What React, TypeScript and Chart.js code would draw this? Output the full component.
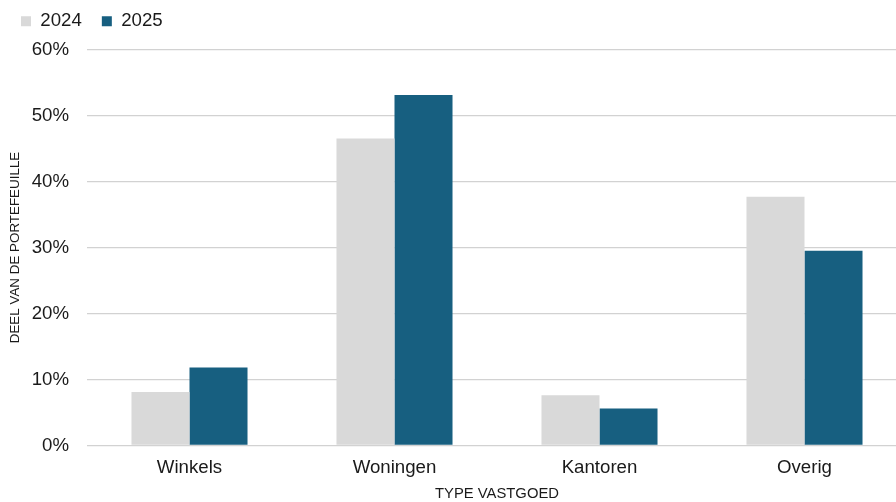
import React, { useEffect, useRef } from "react";
import { Chart, registerables } from "chart.js";

Chart.register(...registerables);

// Portfolio share per property type, 2024 vs 2025 (percent)
const categories = ["Winkels", "Woningen", "Kantoren", "Overig"];
const series2024 = [8.1, 46.5, 7.6, 37.7];
const series2025 = [11.8, 53.1, 5.6, 29.5];
const seriesLabels = ["2024", "2025"];
const yTicks = [0, 10, 20, 30, 40, 50, 60];

const FONT = "'Liberation Sans', Arial, Helvetica, sans-serif";
const GRAY = "#d9d9d9";
const BLUE = "#175f80";
const TEXT = "#1a1a1a";

// Adds extra room between the legend row and the plot area.
const legendGap = {
  id: "legendGap",
  beforeInit(chart: any) {
    const legend = chart.legend;
    if (!legend) return;
    const fit = legend.fit.bind(legend);
    legend.fit = function () {
      fit();
      this.height += 8.8;
    };
  },
};

export default function App() {
  const canvasRef = useRef<HTMLCanvasElement | null>(null);

  useEffect(() => {
    document.body.style.margin = "0";
    const canvas = canvasRef.current;
    if (!canvas) return;
    const chart = new Chart(canvas, {
      type: "bar",
      data: {
        labels: categories,
        datasets: [
          {
            label: seriesLabels[0],
            data: series2024,
            backgroundColor: GRAY,
            barPercentage: 1,
            categoryPercentage: 0.566,
          },
          {
            label: seriesLabels[1],
            data: series2025,
            backgroundColor: BLUE,
            barPercentage: 1,
            categoryPercentage: 0.566,
          },
        ],
      },
      plugins: [legendGap],
      options: {
        responsive: false,
        animation: false,
        devicePixelRatio: 1,
        layout: { padding: { top: -8, left: 1, right: 0, bottom: 0 } },
        plugins: {
          tooltip: { enabled: false },
          legend: {
            position: "top",
            align: "start",
            labels: {
              boxWidth: 10,
              boxHeight: 10,
              padding: 20,
              color: TEXT,
              font: { family: FONT, size: 18.67 },
            },
          },
        },
        scales: {
          x: {
            grid: { display: false, drawTicks: false },
            border: { display: false },
            ticks: {
              color: TEXT,
              padding: 11,
              font: { family: FONT, size: 18.67 },
            },
            title: {
              display: true,
              text: "TYPE VASTGOED",
              color: TEXT,
              font: { family: FONT, size: 14.8, lineHeight: 1 },
              padding: { top: 0, bottom: 1 },
            },
            afterFit(scale: any) {
              scale.height = 56.5;
            },
          },
          y: {
            min: 0,
            max: 60,
            afterBuildTicks(scale: any) {
              scale.ticks = yTicks.map((v) => ({ value: v }));
            },
            grid: { color: "#d2d2d2", lineWidth: 1.3, drawTicks: false },
            border: { display: false },
            ticks: {
              color: TEXT,
              padding: 18,
              font: { family: FONT, size: 18.67 },
              callback: (v: any) => `${v}%`,
            },
            title: {
              display: true,
              text: "DEEL VAN DE PORTEFEUILLE",
              color: TEXT,
              font: { family: FONT, size: 13.4, lineHeight: 1.2 },
              padding: { top: 6, bottom: 0 },
            },
            afterFit(scale: any) {
              scale.width = 86;
            },
          },
        },
      },
    });
    return () => chart.destroy();
  }, []);

  // The plot runs slightly past the right edge of the frame and is clipped there.
  return (
    <div style={{ width: 896, height: 502, background: "#fff", overflow: "hidden" }}>
      <canvas ref={canvasRef} width={907} height={502} style={{ display: "block" }} />
    </div>
  );
}
